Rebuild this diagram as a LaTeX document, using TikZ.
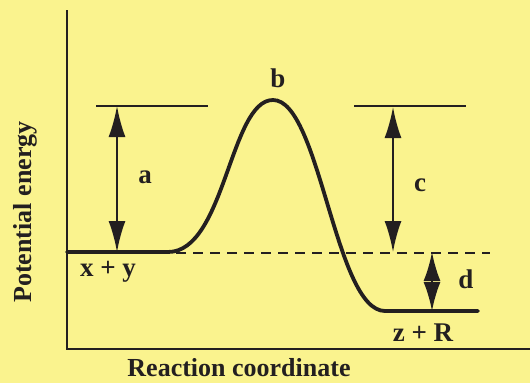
\documentclass[tikz,border=0pt]{standalone}
\usepackage{fontspec}
\setmainfont{Liberation Serif}
\usepackage{tikz}
\usetikzlibrary{arrows.meta}
\definecolor{pebg}{HTML}{FAF38E}
\definecolor{peink}{HTML}{231F20}
\tikzset{
  axisline/.style={line width=2.8pt,draw=peink},
  levelline/.style={line width=2.4pt,draw=peink},
  refline/.style={line width=2.6pt,draw=peink,dash pattern=on 10pt off 7pt},
  pathline/.style={line width=3.8pt,draw=peink,line cap=round},
  gap/.style={line width=2pt,draw=peink,
              {Latex[length=31pt,width=17pt]}-{Latex[length=31pt,width=17pt]}},
  smallgap/.style={line width=2pt,draw=peink,
              {Latex[length=29pt,width=17pt]}-{Latex[length=29pt,width=17pt]}},
  tag/.style={font=\fontsize{27}{30}\selectfont\bfseries,text=peink,inner sep=0pt},
  axistitle/.style={font=\fontsize{26}{30}\selectfont\bfseries,text=peink,inner sep=0pt}
}
\begin{document}
\begin{tikzpicture}[x=1pt,y=-1pt]
    \fill[pebg] (0,0) rectangle (530,383);
    \useasboundingbox (0,0) rectangle (530,383);

    % axes
    \coordinate (ytop) at (67,10);
    \coordinate (orig) at (67,349);
    \coordinate (xend) at (530,349);
    \draw[axisline] (ytop) -- (orig) -- (xend);

    % energy levels
    \coordinate (react) at (67,252);
    \coordinate (rise) at (168,252);
    \coordinate (peak) at (273,100);
    \coordinate (fall) at (385,311);
    \coordinate (prodend) at (478,311);
    \draw[pathline] (react) -- (rise)
      .. controls (225,252) and (230,100) .. (peak)
      .. controls (320,100) and (335,311) .. (fall) -- (prodend);
    \coordinate (dashstart) at (176,253);
    \coordinate (dashend) at (490,253);
    \draw[refline] (dashstart) -- (dashend);

    \coordinate (lefttopA) at (96,106);
    \coordinate (lefttopB) at (208,106);
    \coordinate (righttopA) at (354,106);
    \coordinate (righttopB) at (466,106);
    \draw[levelline] (lefttopA) -- (lefttopB);
    \draw[levelline] (righttopA) -- (righttopB);

    % gaps
    \coordinate (atop) at (117,106);
    \coordinate (abot) at (117,252);
    \coordinate (ctop) at (393,107);
    \coordinate (cbot) at (393,252);
    \coordinate (dtop) at (432,252);
    \coordinate (dbot) at (432,311);
    \draw[gap] (atop) -- (abot);
    \draw[gap] (ctop) -- (cbot);
    \draw[smallgap] (dtop) -- (dbot);

    % labels
    \node[tag] (la) at (145,177) {a};
    \node[tag] (lb) at (278,78) {b};
    \node[tag] (lc) at (420,185) {c};
    \node[tag] (ld) at (466,279) {d};
    \node[tag] (lxy) at (108,272) {x + y};
    \node[tag] (lzr) at (423,333) {z + R};

    \node[axistitle,rotate=90] (ylab) at (25,212) {Potential energy};
    \node[axistitle] (xlab) at (239,368) {Reaction coordinate};
\end{tikzpicture}
\end{document}
